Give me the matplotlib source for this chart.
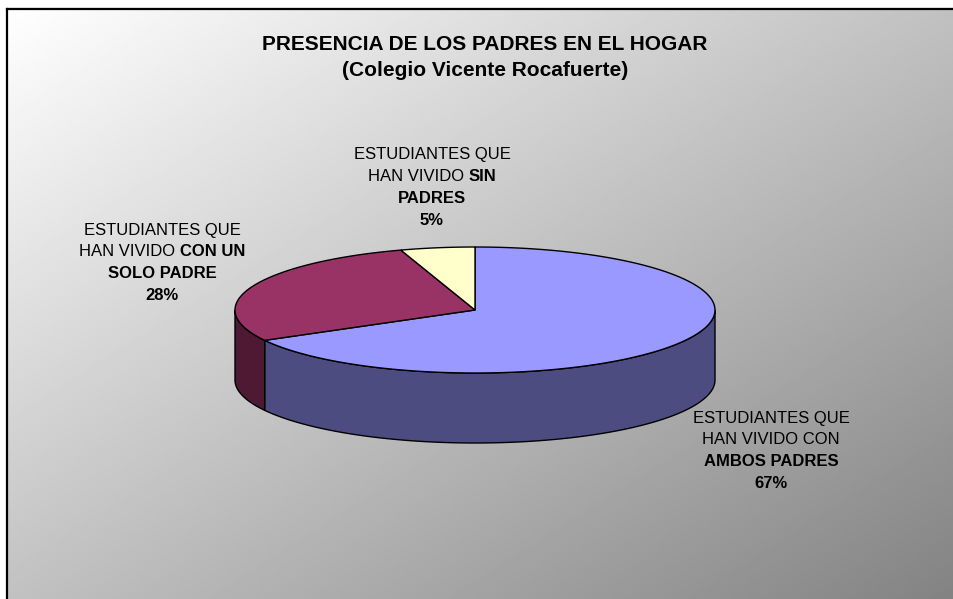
import matplotlib
matplotlib.use("Agg")
import matplotlib.pyplot as plt
from matplotlib.patches import Polygon
import numpy as np

plt.rcParams['font.family'] = ['Liberation Sans', 'DejaVu Sans']

# datos de la encuesta
categorias = ['CON AMBOS PADRES', 'CON UN SOLO PADRE', 'SIN PADRES']
valores = [67, 28, 5]
colores_sup = ['#9999FF', '#993366', '#FFFFCC']
colores_lado = ['#4C4C80', '#4D1933', '#80806A']

# texto de cada etiqueta: lineas con tramos (texto, negrita)
etiquetas = [
    [[('ESTUDIANTES QUE', False)],
     [('HAN VIVIDO CON', False)],
     [('AMBOS PADRES', True)]],
    [[('ESTUDIANTES QUE', False)],
     [('HAN VIVIDO', False), ('CON UN', True)],
     [('SOLO PADRE', True)]],
    [[('ESTUDIANTES QUE', False)],
     [('HAN VIVIDO', False), ('SIN', True)],
     [('PADRES', True)]],
]
pos_etiquetas = [(771, 418), (162, 230), (432, 155)]

W, H = 954, 599
fig = plt.figure(figsize=(W / 100, H / 100), dpi=100)
fig.patch.set_facecolor('white')
ax = fig.add_axes([0, 0, 1, 1])
ax.set_xlim(0, W)
ax.set_ylim(H, 0)
ax.axis('off')

# fondo degradado en diagonal (se extiende fuera del borde para evitar filos)
gx, gy = np.meshgrid(np.linspace(0, 1, 400), np.linspace(0, 1, 260))
fondo = np.clip(1.0 - 0.25 * gx - 0.25 * gy, 0, 1)
ax.imshow(fondo, cmap='gray', vmin=0, vmax=1, extent=(7, W + 20, H + 20, 9),
          aspect='auto', interpolation='bilinear', zorder=0)
ax.set_xlim(0, W)
ax.set_ylim(H, 0)
ax.plot([7, W + 5], [8, 8], color='#d0d0d0', lw=1, zorder=1)
ax.plot([7, 7], [H + 5, 9], color='black', lw=1.6, zorder=1)
ax.plot([7, W + 5], [9, 9], color='black', lw=1.6, zorder=1)

# pastel 3D
cx, cy, rx, ry, prof = 475, 310, 240, 63, 70


def arco(t0, t1, dy=0, n=120):
    t = np.radians(np.linspace(t0, t1, n))
    return np.column_stack([cx + rx * np.cos(t), cy - ry * np.sin(t) + dy])


total = sum(valores)
bordes = 90 - 360 * np.concatenate([[0], np.cumsum(valores)]) / total

for i in range(len(valores)):
    hi, lo = bordes[i], bordes[i + 1]
    for k in (-1, 0, 1):
        a, b = max(lo, k * 360 - 180), min(hi, k * 360)
        if b > a:
            pts = np.vstack([arco(b, a), arco(a, b, prof)])
            ax.add_patch(Polygon(pts, closed=True, fc=colores_lado[i],
                                 ec='black', lw=1.0, zorder=2))

for i in range(len(valores)):
    hi, lo = bordes[i], bordes[i + 1]
    pts = np.vstack([[cx, cy], arco(hi, lo)])
    ax.add_patch(Polygon(pts, closed=True, fc=colores_sup[i],
                         ec='black', lw=1.0, zorder=3, joinstyle='miter'))

# titulo
fig.text(0.508, 1 - 45 / H, 'PRESENCIA DE LOS PADRES EN EL HOGAR',
         ha='center', va='center', fontsize=15, fontweight='bold')
fig.text(0.508, 1 - 70 / H, '(Colegio Vicente Rocafuerte)',
         ha='center', va='center', fontsize=15, fontweight='bold')

# etiquetas con partes en negrita
fig.canvas.draw()
rend = fig.canvas.get_renderer()
fs = 12
paso = 21.7


def ancho(s, negrita):
    t = ax.text(0, 0, s, fontsize=fs, fontweight='bold' if negrita else 'normal')
    w = t.get_window_extent(rend).width
    t.remove()
    return w


esp = ancho('a a', False) - ancho('aa', False)

for lineas, v, (x0, y0) in zip(etiquetas, valores, pos_etiquetas):
    lineas = lineas + [[(f'{v}%', True)]]
    for j, tramos in enumerate(lineas):
        y = y0 + j * paso
        anchos = [ancho(s, b) for s, b in tramos]
        tot = sum(anchos) + esp * (len(tramos) - 1)
        x = x0 - tot / 2
        for (s, b), w in zip(tramos, anchos):
            ax.text(x, y, s, fontsize=fs, fontweight='bold' if b else 'normal',
                    ha='left', va='center', zorder=5)
            x += w + esp

fig.savefig('out.png', dpi=100)
